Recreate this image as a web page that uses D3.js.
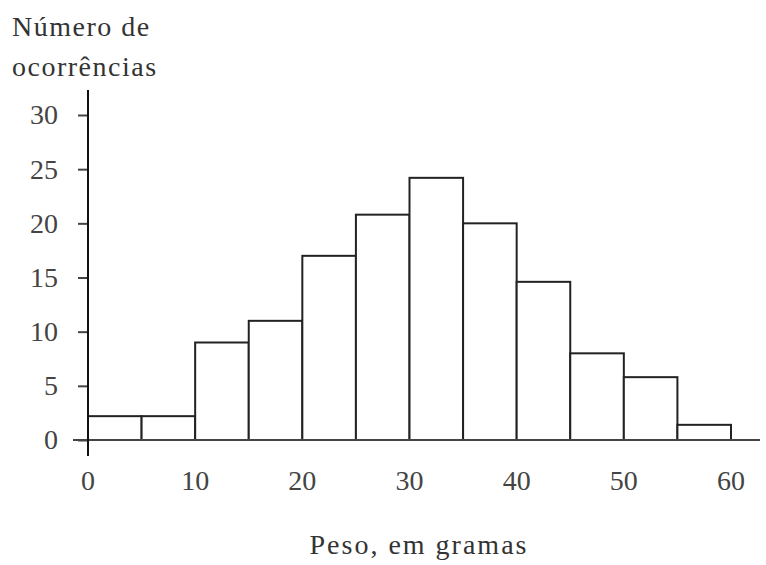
<!DOCTYPE html>
<html>
<head>
<meta charset="utf-8">
<script src="https://cdn.jsdelivr.net/npm/d3@7"></script>
<style>
  body { margin: 0; background: #fff; }
  text { font-family: "Liberation Serif", "DejaVu Serif", serif; fill: #333; }
</style>
</head>
<body>
<div id="chart"></div>
<script>
// 数据：每 5 克一个区间
const binStarts = [0, 5, 10, 15, 20, 25, 30, 35, 40, 45, 50, 55];
const binWidth = 5;
const counts = [2.2, 2.2, 9.0, 11.0, 17.0, 20.8, 24.2, 20.0, 14.6, 8.0, 5.8, 1.4];
const xTicks = [0, 10, 20, 30, 40, 50, 60];
const yTicks = [0, 5, 10, 15, 20, 25, 30];

const width = 766, height = 565;

const svg = d3.select('#chart')
  .append('svg')
  .attr('width', width)
  .attr('height', height);

// 比例尺
const x = d3.scaleLinear().domain([0, 60]).range([88, 731]);
const y = d3.scaleLinear().domain([0, 30]).range([440, 115]);

// 柱子
svg.append('g')
  .selectAll('rect')
  .data(binStarts)
  .join('rect')
  .attr('x', (d) => x(d))
  .attr('y', (d, i) => y(counts[i]))
  .attr('width', (d) => x(d + binWidth) - x(d))
  .attr('height', (d, i) => y(0) - y(counts[i]))
  .style('fill', '#fff')
  .style('stroke', '#222')
  .style('stroke-width', 2);

// 横轴基线
svg.append('line')
  .attr('x1', 73).attr('x2', 760)
  .attr('y1', y(0)).attr('y2', y(0))
  .style('stroke', '#444')
  .style('stroke-width', 2);

// y 轴
const yAxis = svg.append('g')
  .attr('transform', `translate(${x(0)},0)`)
  .call(d3.axisLeft(y).tickValues(yTicks).tickSize(10).tickPadding(20));
yAxis.select('.domain').remove();
yAxis.selectAll('.tick line').style('stroke', '#444').style('stroke-width', 2);
yAxis.selectAll('.tick text').style('font-size', '28px').style('fill', '#444')
  .style('font-family', '"Liberation Serif", serif');

svg.append('line')
  .attr('x1', x(0)).attr('x2', x(0))
  .attr('y1', 90).attr('y2', 456)
  .style('stroke', '#111')
  .style('stroke-width', 2);

// x 轴刻度标签
svg.append('g')
  .selectAll('text')
  .data(xTicks)
  .join('text')
  .attr('x', (d) => x(d))
  .attr('y', 490)
  .attr('text-anchor', 'middle')
  .style('font-size', '28px')
  .style('fill', '#444')
  .text((d) => d);

// 轴标题
svg.append('text')
  .attr('x', 12).attr('y', 36)
  .style('font-size', '28px')
  .style('letter-spacing', '1.5px')
  .text('Número de');
svg.append('text')
  .attr('x', 12).attr('y', 76)
  .style('font-size', '28px')
  .style('letter-spacing', '1.5px')
  .text('ocorrências');

svg.append('text')
  .attr('x', 419).attr('y', 554)
  .attr('text-anchor', 'middle')
  .style('font-size', '28px')
  .style('letter-spacing', '2px')
  .text('Peso, em gramas');
</script>
</body>
</html>
